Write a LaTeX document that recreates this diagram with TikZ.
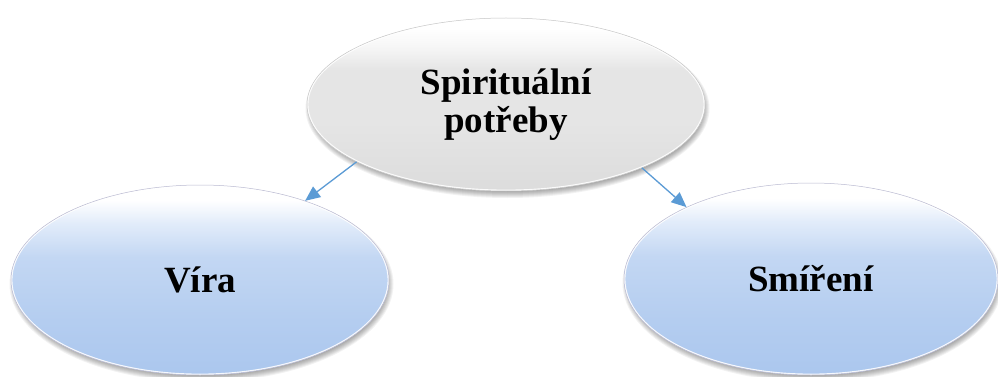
\documentclass[tikz,border=0pt]{standalone}
\usepackage{fontspec}
\setmainfont{Liberation Serif}
\usetikzlibrary{shapes.geometric,arrows.meta}

\definecolor{arrowblue}{HTML}{5B9BD5}
\definecolor{blueBot}{HTML}{ABC7EE}
\definecolor{blueMid}{HTML}{C3D7F3}
\definecolor{blueHi}{HTML}{E2ECFA}
\definecolor{greyBot}{HTML}{DCDCDC}
\definecolor{greyMid}{HTML}{E5E5E5}
\definecolor{greyHi}{HTML}{F7F7F7}

% vertical fills: the path box maps to 25bp (bottom) .. 75bp (top)
\pgfdeclareverticalshading{bluebubble}{100bp}{%
  color(0bp)=(blueBot); color(25bp)=(blueBot); color(40bp)=(blueBot!60!blueMid);
  color(56bp)=(blueMid); color(65bp)=(blueHi); color(71bp)=(white); color(100bp)=(white)}
\pgfdeclareverticalshading{greybubble}{100bp}{%
  color(0bp)=(greyBot); color(25bp)=(greyBot); color(45bp)=(greyMid);
  color(60bp)=(greyMid); color(67bp)=(greyHi); color(72bp)=(white); color(100bp)=(white)}

% soft shadow beneath a bubble: centre x, centre y, x radius, y radius
\newcommand\bubbleshadow[4]{%
  \foreach \k in {0,...,7}{%
    \fill[black, opacity=0.05]
      (#1+1.5, #2+4) ellipse [x radius={#3+3-\k}, y radius={#4+3-\k}];}}

\tikzset{
  bubble/.style n args={3}{ellipse, inner sep=0pt,
    minimum width=#1pt, minimum height=#2pt, shading=#3,
    font=\fontsize{37}{38}\selectfont\bfseries, align=center,
    path picture={\draw[white, line width=2.8pt, opacity=0.9]
      (path picture bounding box.center) ellipse [x radius=#1pt/2, y radius=#2pt/2];}},
  rimblue/.style={draw=blue!20!gray!45, line width=0.5pt},
  rimgrey/.style={draw=gray!45, line width=0.5pt},
  link/.style={draw=arrowblue, line width=1.3pt,
    -{Triangle[length=15pt, width=13pt]}, arrowblue}
}

\begin{document}
\begin{tikzpicture}[x=1pt, y=-1pt]
  \useasboundingbox (0,0) rectangle (998,377);
  \fill[white] (0,0) rectangle (998,377);

  \bubbleshadow{506}{104.5}{199}{86.5}
  \bubbleshadow{200}{280}{189}{95}
  \bubbleshadow{811}{279}{187}{96}

  \node[bubble={398}{173}{greybubble}, rimgrey] (spirit) at (506,104.5)
    {Spirituální\\potřeby};
  \node[bubble={378}{190}{bluebubble}, rimblue] (faith) at (200,280) {Víra};
  \node[bubble={374}{192}{bluebubble}, rimblue] (reconcile) at (811,279) {Smíření};

  \draw[link] (spirit.201) -- (faith.37);
  \draw[link] (spirit.335) -- (reconcile.150);
\end{tikzpicture}
\end{document}
